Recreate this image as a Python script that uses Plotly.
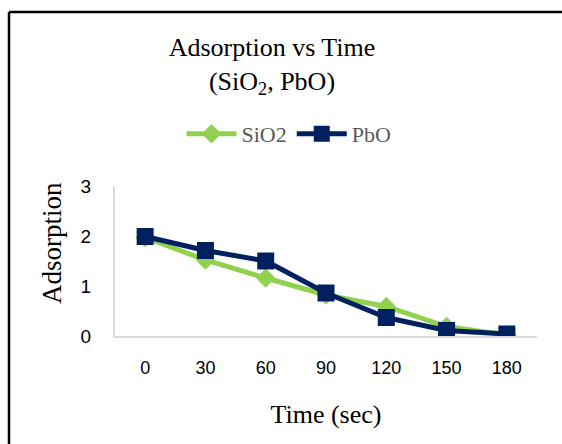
import plotly.graph_objects as go

times = ["0", "30", "60", "90", "120", "150", "180"]
sio2 = [1.97, 1.52, 1.16, 0.82, 0.59, 0.19, 0.02]
pbo = [1.99, 1.71, 1.50, 0.86, 0.37, 0.11, 0.04]
yticks = [0, 1, 2, 3]

W, H = 562, 444
L, R, T, B = 115, 25, 186, 108
pw, ph = W - L - R, H - T - B

def px(x):
    return (x - L) / pw

def py(y):
    return (H - B - y) / ph

fig = go.Figure()
fig.add_trace(go.Scatter(
    x=times, y=sio2, name="SiO2", mode="lines+markers",
    line=dict(color="#92d050", width=5),
    marker=dict(symbol="diamond", size=15, color="#92d050"),
))
fig.add_trace(go.Scatter(
    x=times, y=pbo, name="PbO", mode="lines+markers",
    line=dict(color="#002060", width=5),
    marker=dict(symbol="square", size=17, color="#002060"),
))

fig.update_layout(
    width=W, height=H,
    margin=dict(l=L, r=R, t=T, b=B),
    paper_bgcolor="white", plot_bgcolor="white",
    title=dict(
        text="Adsorption vs Time<br>(SiO<sub>2</sub>, PbO)",
        x=272 / W, xanchor="center", y=1 - 56 / H, yanchor="top",
        font=dict(family="Liberation Serif", size=26, color="#000000"),
    ),
    legend=dict(
        orientation="h", x=px(289), xanchor="center", y=py(134), yanchor="middle",
        font=dict(family="Liberation Serif", size=22, color="#595959"),
        bgcolor="rgba(0,0,0,0)", itemwidth=50,
    ),
    xaxis=dict(
        type="category", categoryorder="array", categoryarray=times,
        range=[-0.5, 6.5], showgrid=False, zeroline=False,
        showline=True, linecolor="#d9d9d9", linewidth=2,
        ticks="", ticklabelstandoff=14,
        tickfont=dict(family="Liberation Sans", size=18, color="#000000"),
        title=dict(text="Time (sec)", standoff=28,
                   font=dict(family="Liberation Serif", size=26, color="#000000")),
    ),
    yaxis=dict(
        range=[0, 3], tickvals=yticks, showgrid=False, zeroline=False,
        showline=True, linecolor="#d9d9d9", linewidth=2,
        ticks="", ticklabelstandoff=18,
        tickfont=dict(family="Liberation Sans", size=19, color="#000000"),
    ),
    showlegend=True,
)

# y-axis title, placed as in the reference (slightly above plot centre)
fig.add_annotation(
    text="Adsorption", xref="paper", yref="paper", x=px(52), y=py(243),
    xanchor="center", yanchor="middle", textangle=-90, showarrow=False,
    font=dict(family="Liberation Serif", size=27, color="#000000"),
)

# outer chart border (top and left edges visible)
bx, by = px(9), py(12)
fig.add_shape(type="line", xref="paper", yref="paper",
              x0=bx, y0=by, x1=px(W + 10), y1=by, line=dict(color="black", width=2.5))
fig.add_shape(type="line", xref="paper", yref="paper",
              x0=bx, y0=by, x1=bx, y1=py(H + 10), line=dict(color="black", width=2.5))

fig.write_html("out.html")
